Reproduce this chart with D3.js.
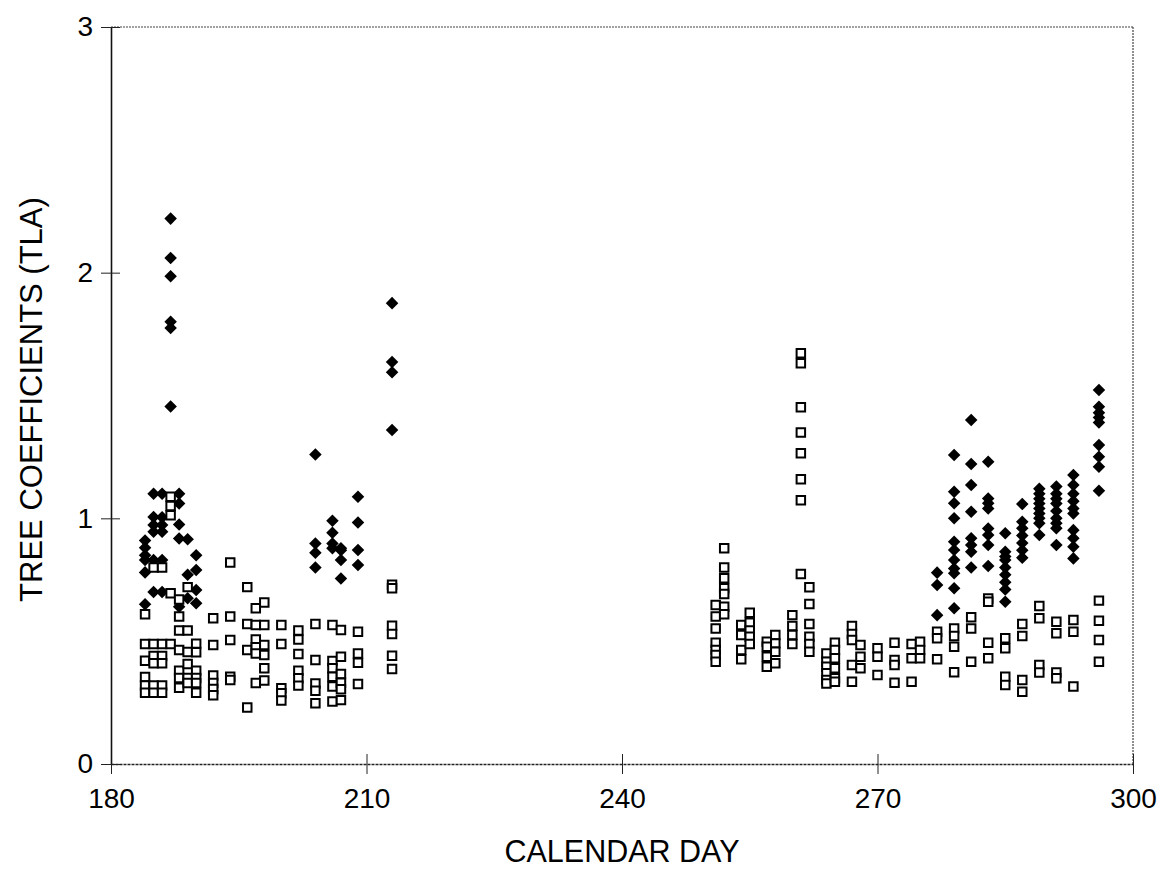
<!DOCTYPE html>
<html>
<head>
<meta charset="utf-8">
<script src="https://cdn.jsdelivr.net/npm/d3@7"></script>
<style>
  body { margin: 0; background: #fff; }
  svg { display: block; }
  text { font-family: "Liberation Sans", Arial, sans-serif; fill: #000; }
</style>
</head>
<body>
<svg id="chart" width="1163" height="877"></svg>
<script>
// ---- data ----
const xTicks = [180, 210, 240, 270, 300];
const yTicks = [0, 1, 2, 3];
const xTitle = "CALENDAR DAY";
const yTitle = "TREE COEFFICIENTS (TLA)";

// filled diamonds
const diamondDays = [
  184,184,184,184,184,184,
  185,185,185,185,185,185,
  186,186,186,186,186,186,
  187,187,187,187,187,187,
  188,188,188,188,188,
  189,189,189,
  190,190,190,190,
  204,204,204,204,
  206,206,206,206,
  207,207,207,207,
  209,209,209,209,
  213,213,213,213,
  277,277,277,
  279,279,279,279,279,279,279,279,279,279,279,
  281,281,281,281,281,281,281,281,
  283,283,283,283,283,283,283,283,
  285,285,285,285,285,285,285,285,285,
  287,287,287,287,287,287,287,
  289,289,289,289,289,289,289,289,289,
  291,291,291,291,291,291,291,291,291,
  293,293,293,293,293,293,293,293,293,293,
  296,296,296,296,296,296,296,296,296
];
const diamondValues = [
  0.91,0.88,0.85,0.83,0.78,0.65,
  1.10,1.005,0.973,0.945,0.83,0.70,
  1.10,1.004,0.973,0.945,0.83,0.70,
  2.22,2.06,1.985,1.80,1.775,1.455,
  1.10,1.06,0.975,0.918,0.64,
  0.915,0.77,0.675,
  0.85,0.79,0.708,0.654,
  1.26,0.898,0.86,0.80,
  0.99,0.941,0.898,0.878,
  0.878,0.87,0.83,0.755,
  1.088,0.983,0.871,0.81,
  1.876,1.636,1.595,1.36,
  0.779,0.729,0.606,
  1.258,1.108,1.061,1.0,0.905,0.871,0.83,0.796,0.776,0.715,0.634,
  1.40,1.221,1.136,1.027,0.919,0.891,0.864,0.80,
  1.23,1.081,1.061,1.04,0.959,0.932,0.891,0.806,
  0.939,0.864,0.845,0.83,0.80,0.77,0.74,0.71,0.66,
  1.058,0.986,0.96,0.93,0.90,0.87,0.84,
  1.12,1.10,1.08,1.06,1.04,1.02,1.0,0.98,0.932,
  1.13,1.10,1.08,1.06,1.03,1.0,0.98,0.96,0.891,
  1.176,1.136,1.10,1.07,1.04,1.02,0.952,0.919,0.884,0.837,
  1.522,1.454,1.43,1.41,1.39,1.298,1.251,1.21,1.112
];

// open squares
const squareDays = [
  184,184,184,184,184,184,
  185,185,185,185,185,185,
  186,186,186,186,186,186,
  187,187,187,187,187,
  188,188,188,188,188,188,188,
  189,189,189,189,189,189,
  190,190,190,190,190,190,
  192,192,192,192,192,192,
  194,194,194,194,194,
  196,196,196,196,
  197,197,197,197,197,197,
  198,198,198,198,198,198,
  200,200,200,200,200,
  202,202,202,202,202,202,
  204,204,204,204,204,
  206,206,206,206,206,206,
  207,207,207,207,207,207,
  209,209,209,209,
  213,213,213,213,213,213,
  251,251,251,251,251,251,251,
  252,252,252,252,252,252,252,
  254,254,254,254,
  255,255,255,255,255,
  257,257,257,257,
  258,258,258,258,
  260,260,260,260,
  261,261,261,261,261,261,261,261,
  262,262,262,262,262,262,
  264,264,264,264,264,264,
  265,265,265,265,265,265,
  267,267,267,267,267,
  268,268,268,
  270,270,270,
  272,272,272,272,
  274,274,274,
  275,275,275,
  277,277,277,
  279,279,279,279,
  281,281,281,
  283,283,283,283,
  285,285,285,285,
  287,287,287,287,
  289,289,289,289,
  291,291,291,291,
  293,293,293,
  296,296,296,296
];
const squareValues = [
  0.61,0.488,0.42,0.354,0.32,0.29,
  0.80,0.488,0.44,0.41,0.32,0.29,
  0.80,0.488,0.44,0.41,0.32,0.29,
  1.088,1.05,1.013,0.695,0.488,
  0.67,0.60,0.543,0.464,0.38,0.35,0.31,
  0.72,0.543,0.456,0.407,0.35,0.33,
  0.49,0.455,0.38,0.35,0.33,0.29,
  0.593,0.484,0.36,0.33,0.305,0.28,
  0.82,0.60,0.505,0.355,0.342,
  0.72,0.57,0.464,0.23,
  0.634,0.566,0.507,0.475,0.45,0.33,
  0.657,0.566,0.484,0.444,0.39,0.34,
  0.566,0.488,0.308,0.288,0.258,
  0.543,0.507,0.448,0.38,0.349,0.319,
  0.57,0.423,0.328,0.298,0.247,
  0.566,0.419,0.39,0.355,0.315,0.254,
  0.545,0.437,0.366,0.331,0.304,0.26,
  0.538,0.45,0.412,0.326,
  0.73,0.715,0.563,0.529,0.441,0.387,
  0.647,0.60,0.552,0.494,0.464,0.444,0.416,
  0.878,0.80,0.756,0.715,0.692,0.64,0.61,
  0.566,0.525,0.464,0.426,
  0.616,0.575,0.543,0.518,0.488,
  0.498,0.477,0.437,0.396,
  0.525,0.491,0.457,0.41,
  0.606,0.562,0.525,0.488,
  1.672,1.631,1.452,1.349,1.265,1.159,1.074,0.773,
  0.719,0.651,0.57,0.518,0.488,0.457,
  0.45,0.416,0.396,0.369,0.342,0.328,
  0.494,0.464,0.43,0.39,0.349,0.335,
  0.562,0.529,0.505,0.403,0.335,
  0.484,0.437,0.39,
  0.471,0.437,0.362,
  0.494,0.423,0.403,0.331,
  0.488,0.43,0.335,
  0.498,0.464,0.43,
  0.538,0.512,0.426,
  0.552,0.521,0.477,0.373,
  0.597,0.552,0.416,
  0.674,0.66,0.494,0.43,
  0.512,0.471,0.355,0.322,
  0.57,0.521,0.342,0.294,
  0.643,0.593,0.403,0.372,
  0.579,0.532,0.372,0.349,
  0.586,0.538,0.315,
  0.665,0.583,0.505,0.416
];

// ---- layout ----
const svg = d3.select("#chart");
const plotLeft = 111, plotRight = 1133, plotTop = 27, plotBottom = 764;

const x = d3.scaleLinear().domain([180, 300]).range([plotLeft, plotRight]);
const y = d3.scaleLinear().domain([0, 3]).range([plotBottom, plotTop]);

// frame: top & right dotted thin
svg.append("line").attr("x1", plotLeft).attr("x2", plotRight).attr("y1", plotTop).attr("y2", plotTop)
  .attr("stroke", "#444").attr("stroke-width", 1.2).attr("stroke-dasharray", "2,1");
svg.append("line").attr("x1", plotRight).attr("x2", plotRight).attr("y1", plotTop).attr("y2", plotBottom)
  .attr("stroke", "#444").attr("stroke-width", 1.2).attr("stroke-dasharray", "2,1");

// x axis
const xAxis = d3.axisBottom(x).tickValues(xTicks).tickSize(0).tickPadding(24).tickFormat(d3.format("d"));
const gx = svg.append("g").attr("transform", `translate(0,${plotBottom})`).call(xAxis);
gx.select(".domain").attr("stroke", "#222").attr("stroke-width", 1.4).attr("stroke-dasharray", "3,1");
gx.selectAll(".tick text").attr("font-size", 28).attr("font-family", "Liberation Sans, Arial, sans-serif").attr("fill", "#000");
gx.selectAll(".tick").append("line").attr("y1", -10).attr("y2", 10).attr("stroke", "#222").attr("stroke-width", 1);

// y axis
const yAxis = d3.axisLeft(y).tickValues(yTicks).tickSize(0).tickPadding(18).tickFormat(d3.format("d"));
const gy = svg.append("g").attr("transform", `translate(${plotLeft},0)`).call(yAxis);
gy.select(".domain").attr("stroke", "#111").attr("stroke-width", 1.6);
gy.selectAll(".tick text").attr("font-size", 28).attr("font-family", "Liberation Sans, Arial, sans-serif").attr("fill", "#000");
gy.selectAll(".tick").append("line").attr("x1", -10).attr("x2", 9).attr("stroke", "#222").attr("stroke-width", 1);

// titles
svg.append("text").attr("x", (plotLeft + plotRight) / 2).attr("y", 862).attr("text-anchor", "middle")
  .attr("font-size", 30.5).text(xTitle);
svg.append("text").attr("transform", `translate(42,${(plotTop + plotBottom) / 2 + 4}) rotate(-90)`)
  .attr("text-anchor", "middle").attr("font-size", 31).text(yTitle);

// markers
const diamonds = diamondDays.map((d, i) => ({ day: d, v: diamondValues[i] }));
const squares = squareDays.map((d, i) => ({ day: d, v: squareValues[i] }));

const diamondPath = d3.symbol().type(d3.symbolDiamond2).size(100)();
svg.append("g").selectAll("path").data(diamonds).join("path")
  .attr("d", diamondPath)
  .attr("transform", d => `translate(${x(d.day)},${y(d.v)})`)
  .attr("fill", "#000");

const squarePath = d3.symbol().type(d3.symbolSquare).size(72)();
svg.append("g").selectAll("path").data(squares).join("path")
  .attr("d", squarePath)
  .attr("transform", d => `translate(${x(d.day)},${y(d.v)})`)
  .attr("fill", "#fff").attr("stroke", "#000").attr("stroke-width", 2);
</script>
</body>
</html>
